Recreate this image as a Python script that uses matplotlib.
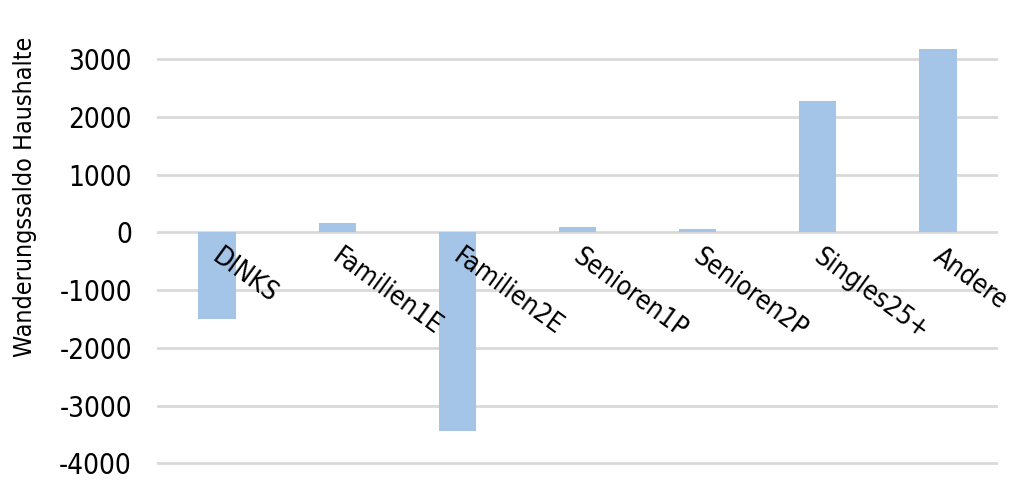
import matplotlib
matplotlib.use("Agg")
import matplotlib.pyplot as plt

# data
kategorien = ["DINKS", "Familien1E", "Familien2E", "Senioren1P", "Senioren2P", "Singles25+", "Andere"]
saldo = [-1500, 160, -3430, 90, 50, 2270, 3170]
y_ticks = [-4000, -3000, -2000, -1000, 0, 1000, 2000, 3000]

plt.rcParams["font.family"] = ["DejaVu Sans"]
plt.rcParams["font.stretch"] = "condensed"

fig = plt.figure(figsize=(10.24, 4.91), dpi=100)
ax = fig.add_axes([157 / 1024, 1 - 475 / 491, (998 - 157) / 1024, (475 - 40) / 491])

x = range(len(kategorien))
ax.bar(x, saldo, width=0.31, color="#a4c4e8", zorder=3)

ax.set_xlim(-0.5, len(kategorien) - 0.5)
ax.set_ylim(-4200, 3330)
ax.set_yticks(y_ticks)
ax.set_yticklabels([str(v) for v in y_ticks], fontsize=20)
ax.yaxis.grid(True, color="#d9d9d9", linewidth=2, zorder=0)
ax.tick_params(axis="y", length=0, pad=18)
for s in ax.spines.values():
    s.set_visible(False)

# category labels sit on the zero line and over the bars, like in Excel
ax.set_xticks([])
for i, name in enumerate(kategorien):
    ax.annotate(name, (i, 0), xytext=(4, -8), textcoords="offset points",
                fontsize=19, rotation=-36, ha="left", va="top",
                rotation_mode="anchor", zorder=5)

ax.set_ylabel("Wanderungssaldo Haushalte", fontsize=18)
ax.yaxis.set_label_coords(-0.143, 0.64)

fig.savefig("out.png", dpi=100)
